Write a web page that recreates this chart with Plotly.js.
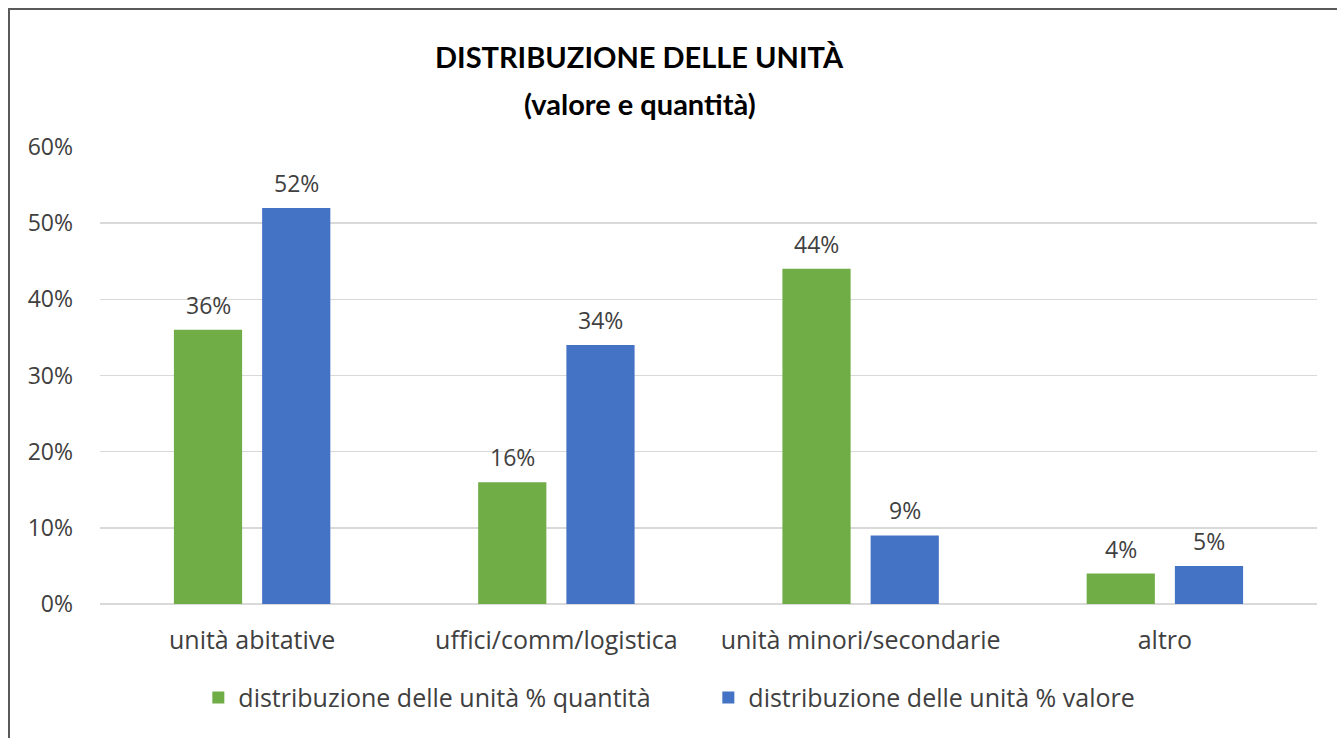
<!DOCTYPE html>
<html>
<head>
<meta charset="utf-8">
<script src="https://cdn.plot.ly/plotly-3.0.1.min.js"></script>
<style>
html,body{margin:0;padding:0;background:#fff;}
#wrap{position:relative;width:1337px;height:738px;}
#chart{position:absolute;left:0;top:0;width:1337px;height:738px;}
#frame{position:absolute;left:8px;top:8px;width:1340px;height:740px;border-left:2px solid #5a5a5a;border-top:2px solid #5a5a5a;pointer-events:none;}
</style>
</head>
<body>
<div id="wrap"><div id="chart"></div><div id="frame"></div></div>
<script>
const categories = ["unità abitative", "uffici/comm/logistica", "unità minori/secondarie", "altro"];
const quantita = [0.36, 0.16, 0.44, 0.04];
const valore = [0.52, 0.34, 0.09, 0.05];
const seriesNames = ["distribuzione delle unità % quantità", "distribuzione delle unità % valore"];
const titleLines = ["DISTRIBUZIONE DELLE UNITÀ", "(valore e quantità)"];

const F = "'Open Sans', sans-serif";
const TF = "Lato, 'Open Sans', sans-serif";
const pct = v => Math.round(v*100) + "%";
const colors = ["#70AD47", "#4472C4"];

const traces = [
  {type:"bar", name:seriesNames[0], x:categories, y:quantita, marker:{color:colors[0]}},
  {type:"bar", name:seriesNames[1], x:categories, y:valore, marker:{color:colors[1]}}
];

const annotations = [];
[quantita, valore].forEach((vals, si) => {
  vals.forEach((v, i) => {
    annotations.push({xref:"x", yref:"y", x:categories[i], y:v, text:pct(v), showarrow:false,
      xshift: si === 0 ? -44 : 44, yshift:25, yanchor:"middle",
      font:{family:F, size:23, color:"#404040"}});
  });
});
annotations.push({xref:"paper", yref:"paper", x:0.4437, y:1.197, yanchor:"middle", showarrow:false,
  text:"<b>"+titleLines[0]+"</b>", font:{family:TF, size:29, color:"#000"}});
annotations.push({xref:"paper", yref:"paper", x:0.4437, y:1.096, yanchor:"middle", showarrow:false,
  text:"<b>"+titleLines[1]+"</b>", font:{family:TF, size:29, color:"#000"}});

const layout = {
  width:1337, height:738,
  margin:{l:100, r:20, t:147, b:134},
  paper_bgcolor:"#fff", plot_bgcolor:"#fff",
  font:{family:F, size:24, color:"#404040"},
  barmode:"group", bargap:0.42, bargroupgap:0.227,
  xaxis:{type:"category", showgrid:false, showline:false, zeroline:false, ticks:"", ticklabelstandoff:19,
         tickfont:{family:F, size:25, color:"#404040"}},
  yaxis:{range:[0,0.6], dtick:0.1, tickformat:".0%", gridcolor:"#d9d9d9", gridwidth:1.5,
         zeroline:true, zerolinecolor:"#d9d9d9", zerolinewidth:1.5, showline:false, ticks:"",
         ticklabelstandoff:26, tickfont:{family:F, size:23, color:"#404040"}},
  annotations: annotations,
  showlegend:true,
  legend:{orientation:"h", x:0.0808, xanchor:"left", y:-0.205, yanchor:"middle",
          font:{family:F, size:25, color:"#404040"}, traceorder:"normal", itemwidth:30,
          entrywidth:465}
};

Plotly.newPlot("chart", traces, layout, {displayModeBar:false, staticPlot:true});
</script>
</body>
</html>
